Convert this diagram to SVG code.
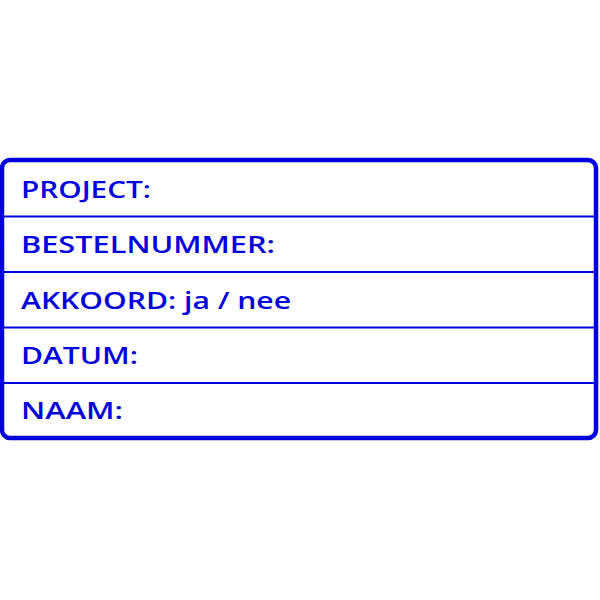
<svg xmlns="http://www.w3.org/2000/svg" width="600" height="600" viewBox="0 0 600 600">
<style>
.t{font-family:"Open Sans","Noto Sans",sans-serif;font-size:23px;font-weight:600;fill:#0000dc}
.l{stroke:#0000dc;stroke-width:2;fill:none}
</style>
<rect width="600" height="600" fill="#fff"/>
<g id="frame">
<rect x="2" y="160" width="594" height="278" rx="8" ry="8" fill="none" stroke="#0000dc" stroke-width="4.5"/>
</g>
<g id="lines">
<line class="l" x1="2" y1="216.5" x2="596" y2="216.5"/>
<line class="l" x1="2" y1="272" x2="596" y2="272"/>
<line class="l" x1="2" y1="327.5" x2="596" y2="327.5"/>
<line class="l" x1="2" y1="383" x2="596" y2="383"/>
</g>
<g id="row1"><text class="t" x="21" y="198" textLength="130" lengthAdjust="spacingAndGlyphs">PROJECT:</text></g>
<g id="row2"><text class="t" x="21" y="253" textLength="254" lengthAdjust="spacingAndGlyphs">BESTELNUMMER:</text></g>
<g id="row3"><text class="t" x="21" y="308.5" textLength="270" lengthAdjust="spacingAndGlyphs">AKKOORD: ja / nee</text></g>
<g id="row4"><text class="t" x="21" y="363.5" textLength="117" lengthAdjust="spacingAndGlyphs">DATUM:</text></g>
<g id="row5"><text class="t" x="21" y="418.5" textLength="102" lengthAdjust="spacingAndGlyphs">NAAM:</text></g>
</svg>
